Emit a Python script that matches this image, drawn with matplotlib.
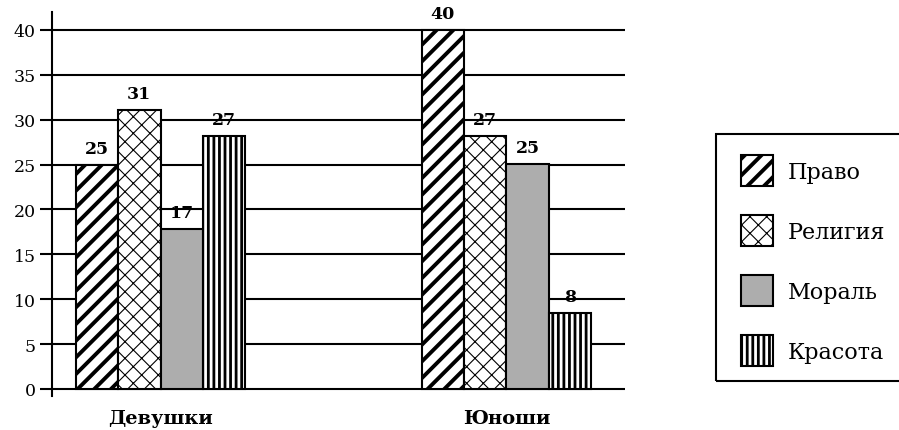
import matplotlib.pyplot as plt
import matplotlib.patches as mpatches
import numpy as np

plt.rcParams['font.family'] = ['DejaVu Serif']

# Данные
groups = ["Девушки", "Юноши"]
series = ["Право", "Религия", "Мораль", "Красота"]
labels_girls = [25, 31, 17, 27]
labels_boys = [40, 27, 25, 8]
# высоты столбцов так, как они нарисованы на исходной диаграмме
heights_girls = [25, 31.1, 17.8, 28.2]
heights_boys = [40, 28.2, 25.1, 8.5]
y_ticks = [0, 5, 10, 15, 20, 25, 30, 35, 40]

hatches = ['//', 'xx', '', '|||']
hatch_lw = [2.8, 0.8, 1.0, 2.0]
fills = ['white', 'white', '#adadad', 'white']

fig = plt.figure(figsize=(8.99, 4.31), dpi=100)
ax = fig.add_axes([52 / 899, 1 - 397 / 431, (625 - 52) / 899, 384 / 431])

x = np.arange(len(groups))
width = 0.1225
heights = np.array([heights_girls, heights_boys])
labels = np.array([labels_girls, labels_boys])

for i in range(len(series)):
    pos = x + (i - 1.5) * width
    bars = ax.bar(pos, heights[:, i], width, color=fills[i], edgecolor='black',
                  linewidth=1.5, hatch=hatches[i], zorder=3)
    for b in bars:
        b.set_hatch_linewidth(hatch_lw[i])
    for b, lab in zip(bars, labels[:, i]):
        ax.annotate(str(lab), xy=(b.get_x() + b.get_width() / 2, b.get_height()),
                    xytext=(0, 8.7), textcoords='offset points', ha='center',
                    va='baseline', fontsize=12.5, fontweight='bold')

ax.set_xlim(-0.3136, 1.3425)
ax.set_ylim(-0.78, 42.0)
ax.set_yticks(y_ticks)
ax.set_xticks(x)
ax.set_xticklabels(groups, fontsize=14, fontweight='bold')
ax.tick_params(axis='x', length=0, pad=9.5)
ax.tick_params(axis='y', length=8.6, width=1.5, pad=3, labelsize=12.5)
ax.yaxis.grid(True, color='black', linewidth=1.5)
ax.set_axisbelow(True)
for s in ['top', 'right', 'bottom']:
    ax.spines[s].set_visible(False)
ax.spines['left'].set_linewidth(1.5)

# Легенда
frame = mpatches.Rectangle((716 / 899, 1 - 382 / 431), 0.25, 247 / 431,
                           transform=fig.transFigure, fill=False,
                           edgecolor='black', linewidth=1.5, clip_on=False)
fig.patches.append(frame)

handles = [mpatches.Patch(facecolor=fills[i], edgecolor='black', linewidth=1.5,
                          hatch=hatches[i], label=name)
           for i, name in enumerate(series)]
leg = fig.legend(handles=handles, loc='upper left',
                 bbox_to_anchor=(741 / 899, 1 - 156 / 431), frameon=False,
                 fontsize=16, handlelength=1.44, handleheight=1.75,
                 labelspacing=1.32, handletextpad=0.68, borderpad=0, borderaxespad=0)
for p, lw in zip(leg.get_patches(), hatch_lw):
    p.set_hatch_linewidth(lw)

fig.savefig('out.png', dpi=100)
